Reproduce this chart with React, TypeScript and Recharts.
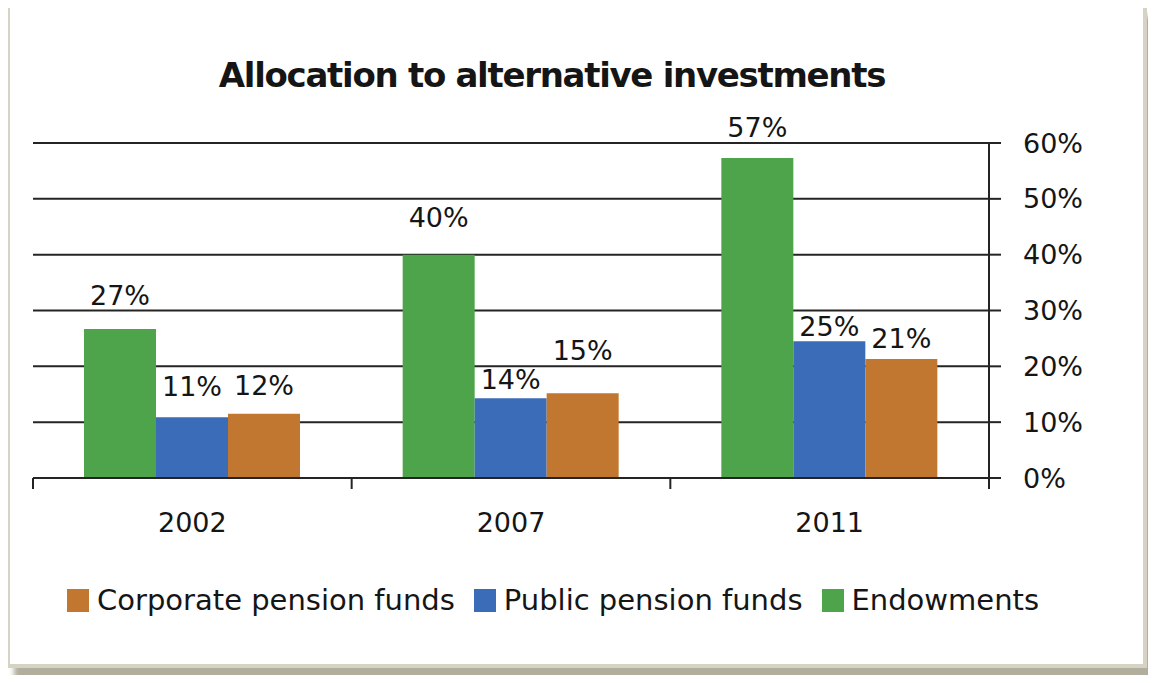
import { BarChart, Bar, XAxis, YAxis, CartesianGrid, LabelList } from 'recharts'

const years = ['2002', '2007', '2011']
const endowments = [26.7, 40, 57.3]
const publicFunds = [10.9, 14.3, 24.5]
const corporateFunds = [11.5, 15.2, 21.3]
const yTicks = [0, 10, 20, 30, 40, 50, 60]

const GREEN = '#4ea44a'
const BLUE = '#3b6cb8'
const ORANGE = '#c1772f'
const INK = '#151515'
const AXIS = '#242424'
const FONT = '"DejaVu Sans", sans-serif'

// how far each value label sits above its bar (the original places them unevenly)
const greenLift = [33, 37, 31]
const blueLift = [31, 19, 15]
const orangeLift = [28, 43, 21]

const data = years.map((year, i) => ({
  year,
  endowments: endowments[i],
  publicFunds: publicFunds[i],
  corporateFunds: corporateFunds[i],
}))

// legend is listed in reverse of the bar order
const legendItems = [
  { name: 'Corporate pension funds', color: ORANGE },
  { name: 'Public pension funds', color: BLUE },
  { name: 'Endowments', color: GREEN },
]

function makeLabel(lift: number[]) {
  return function ValueLabel(props: any) {
    const { x, y, width, value, index } = props
    return (
      <text
        x={Number(x) + Number(width) / 2}
        y={Number(y) - lift[index]}
        textAnchor="middle"
        dominantBaseline="central"
        fontSize={27}
        fill={INK}
      >
        {Math.round(Number(value))}%
      </text>
    )
  }
}

function YearTick(props: any) {
  const { x, y, payload, index, width } = props
  const band = (Number(width) || 956) / years.length
  const left = x - band / 2
  const right = x + band / 2
  return (
    <g>
      <line x1={left} y1={y} x2={left} y2={y + 11} stroke={AXIS} strokeWidth={2} />
      {index === years.length - 1 && (
        <line x1={right} y1={y} x2={right} y2={y + 11} stroke={AXIS} strokeWidth={2} />
      )}
      <text x={x} y={y + 54} textAnchor="middle" fontSize={27} fill={INK}>
        {payload.value}
      </text>
    </g>
  )
}

export default function App() {
  return (
    <div
      style={{
        position: 'relative',
        width: 1156,
        height: 683,
        margin: -8,
        background: '#fff',
        fontFamily: FONT,
        overflow: 'hidden',
      }}
    >
      <div
        style={{
          position: 'absolute',
          left: 6,
          top: 4,
          width: 1141,
          height: 664,
          boxSizing: 'border-box',
          border: '4px solid #d6d2c4',
          boxShadow: '8px 12px 5px rgba(165,160,140,0.85)',
          background: '#fff',
        }}
      />
      <div
        style={{
          position: 'absolute',
          left: 152,
          top: 55,
          width: 800,
          textAlign: 'center',
          fontSize: 34,
          letterSpacing: -1.3,
          fontWeight: 'bold',
          lineHeight: '40px',
          color: INK,
        }}
      >
        Allocation to alternative investments
      </div>
      <div style={{ position: 'absolute', left: 0, top: 0 }}>
        <BarChart
          width={1156}
          height={683}
          data={data}
          margin={{ top: 143, right: 67, left: 33, bottom: 145 }}
          barCategoryGap={51}
          barGap={0}
        >
          <CartesianGrid vertical={false} stroke={AXIS} strokeWidth={2} />
          <XAxis
            dataKey="year"
            height={60}
            axisLine={{ stroke: AXIS, strokeWidth: 2 }}
            tickLine={false}
            tickSize={0}
            tickMargin={0}
            tick={<YearTick />}
            interval={0}
          />
          <YAxis
            orientation="right"
            width={100}
            domain={[0, 60]}
            ticks={yTicks}
            tickFormatter={(v) => `${v}%`}
            axisLine={{ stroke: AXIS, strokeWidth: 2 }}
            tickLine={{ stroke: AXIS, strokeWidth: 2 }}
            tickSize={12}
            tickMargin={22}
            tick={{ fontSize: 27, fill: INK }}
          />
          <Bar dataKey="endowments" fill={GREEN} isAnimationActive={false}>
            <LabelList dataKey="endowments" content={makeLabel(greenLift)} />
          </Bar>
          <Bar dataKey="publicFunds" fill={BLUE} isAnimationActive={false}>
            <LabelList dataKey="publicFunds" content={makeLabel(blueLift)} />
          </Bar>
          <Bar dataKey="corporateFunds" fill={ORANGE} isAnimationActive={false}>
            <LabelList dataKey="corporateFunds" content={makeLabel(orangeLift)} />
          </Bar>
        </BarChart>
      </div>
      <div
        style={{
          position: 'absolute',
          left: 67,
          top: 580,
          height: 40,
          display: 'flex',
          alignItems: 'center',
          fontSize: 29,
          color: INK,
          whiteSpace: 'nowrap',
        }}
      >
        {legendItems.map((item) => (
          <div key={item.name} style={{ display: 'flex', alignItems: 'center', marginRight: 19 }}>
            <span
              style={{
                display: 'inline-block',
                width: 22,
                height: 23,
                background: item.color,
                marginRight: 8,
              }}
            />
            <span>{item.name}</span>
          </div>
        ))}
      </div>
    </div>
  )
}
